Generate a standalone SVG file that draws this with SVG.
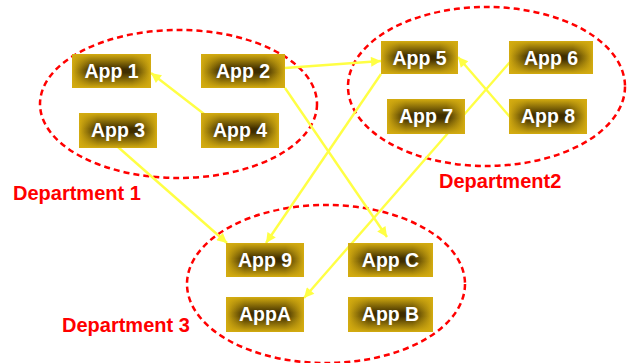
<svg xmlns="http://www.w3.org/2000/svg" width="633" height="363" viewBox="0 0 633 363">
<defs>
<linearGradient id="gh" x1="0" y1="0" x2="1" y2="0">
<stop offset="0" stop-color="#D4AC10"/>
<stop offset="0.24" stop-color="#3E2D00"/>
<stop offset="0.76" stop-color="#3E2D00"/>
<stop offset="1" stop-color="#D4AC10"/>
</linearGradient>
<linearGradient id="gv" x1="0" y1="0" x2="0" y2="1">
<stop offset="0" stop-color="#D4AC10" stop-opacity="1"/>
<stop offset="0.45" stop-color="#D4AC10" stop-opacity="0"/>
<stop offset="0.55" stop-color="#D4AC10" stop-opacity="0"/>
<stop offset="1" stop-color="#D4AC10" stop-opacity="1"/>
</linearGradient>
<marker id="ah" viewBox="0 0 10 10" refX="10" refY="5" markerWidth="12" markerHeight="10" markerUnits="userSpaceOnUse" orient="auto">
<path d="M0,0 L10,5 L0,10 z" fill="#FFFF44"/>
</marker>
</defs>
<style>
.dept{fill:none;stroke:#FF0000;stroke-width:2.5;stroke-dasharray:6 4}
.b1{fill:url(#gh)}
.b2{fill:url(#gv)}
.lbl{font-family:"Liberation Sans",Arial,sans-serif;font-weight:bold;font-size:19.5px;fill:#FFFFFF;text-anchor:middle}
.dl{font-family:"Liberation Sans",Arial,sans-serif;font-weight:bold;font-size:20px;fill:#FF0000}
.con{stroke:#FFFF44;stroke-width:2.4;fill:none;marker-end:url(#ah)}
</style>
<g id="groups">
<ellipse class="dept" cx="178.5" cy="104" rx="138.5" ry="74"/>
<ellipse class="dept" cx="486.5" cy="86.5" rx="138.5" ry="79.5"/>
<ellipse class="dept" cx="326" cy="284" rx="139" ry="79"/>
</g>
<g id="dept-labels">
<text class="dl" x="13" y="200">Department 1</text>
<text class="dl" x="439" y="188">Department2</text>
<text class="dl" x="62" y="332">Department 3</text>
</g>
<g id="connectors">
<line class="con" x1="208" y1="117" x2="151" y2="73"/>
<line class="con" x1="285" y1="68" x2="381" y2="61"/>
<line class="con" x1="285" y1="88" x2="387" y2="237"/>
<line class="con" x1="118" y1="147" x2="227" y2="243"/>
<line class="con" x1="381" y1="74" x2="266" y2="243"/>
<line class="con" x1="510" y1="117" x2="458" y2="57"/>
<line class="con" x1="510" y1="62" x2="304" y2="298"/>
</g>
<g id="app1"><rect class="b1" x="72" y="54" width="79" height="34"/><rect class="b2" x="72" y="54" width="79" height="34"/><text class="lbl" x="111.5" y="78">App 1</text></g>
<g id="app2"><rect class="b1" x="201" y="54" width="84" height="34"/><rect class="b2" x="201" y="54" width="84" height="34"/><text class="lbl" x="243" y="78">App 2</text></g>
<g id="app3"><rect class="b1" x="79" y="113" width="78" height="35"/><rect class="b2" x="79" y="113" width="78" height="35"/><text class="lbl" x="118" y="137">App 3</text></g>
<g id="app4"><rect class="b1" x="201" y="113" width="78" height="35"/><rect class="b2" x="201" y="113" width="78" height="35"/><text class="lbl" x="240" y="137">App 4</text></g>
<g id="app5"><rect class="b1" x="381" y="41" width="77" height="33"/><rect class="b2" x="381" y="41" width="77" height="33"/><text class="lbl" x="419.5" y="64.5">App 5</text></g>
<g id="app6"><rect class="b1" x="509" y="41" width="84" height="33"/><rect class="b2" x="509" y="41" width="84" height="33"/><text class="lbl" x="551" y="64.5">App 6</text></g>
<g id="app7"><rect class="b1" x="387" y="99" width="78" height="35"/><rect class="b2" x="387" y="99" width="78" height="35"/><text class="lbl" x="426" y="123">App 7</text></g>
<g id="app8"><rect class="b1" x="509" y="99" width="78" height="35"/><rect class="b2" x="509" y="99" width="78" height="35"/><text class="lbl" x="548" y="123">App 8</text></g>
<g id="app9"><rect class="b1" x="226" y="243" width="78" height="34"/><rect class="b2" x="226" y="243" width="78" height="34"/><text class="lbl" x="265" y="267">App 9</text></g>
<g id="appC"><rect class="b1" x="348" y="243" width="85" height="34"/><rect class="b2" x="348" y="243" width="85" height="34"/><text class="lbl" x="390.5" y="267">App C</text></g>
<g id="appA"><rect class="b1" x="226" y="297" width="78" height="35"/><rect class="b2" x="226" y="297" width="78" height="35"/><text class="lbl" x="265" y="321">AppA</text></g>
<g id="appB"><rect class="b1" x="348" y="297" width="85" height="35"/><rect class="b2" x="348" y="297" width="85" height="35"/><text class="lbl" x="390.5" y="321">App B</text></g>
</svg>
